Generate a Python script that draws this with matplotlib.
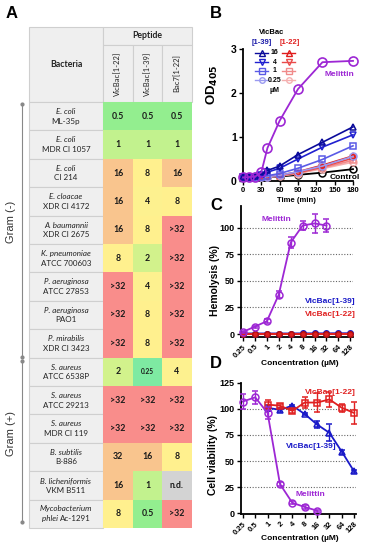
import matplotlib
matplotlib.use('Agg')
import matplotlib.pyplot as plt
from matplotlib.patches import Rectangle

plt.rcParams['font.family'] = ['Liberation Sans', 'DejaVu Sans']

# ---------------- Panel A data ----------------
species = ["E. coli", "E. coli", "E. coli", "E. cloacae", "A. baumannii", "K. pneumoniae",
           "P. aeruginosa", "P. aeruginosa", "P. mirabilis", "S. aureus", "S. aureus",
           "S. aureus", "B. subtilis", "B. licheniformis", "Mycobacterium"]
strains = ["ML-35p", "MDR CI 1057", "CI 214", "XDR CI 4172", "XDR CI 2675", "ATCC 700603",
           "ATCC 27853", "PAO1", "XDR CI 3423", "ATCC 6538P", "ATCC 29213", "MDR CI 119",
           "B-886", "VKM B511", "Ac-1291"]
peptides = ["VicBac[1-22]", "VicBac[1-39]", "Bac7[1-22]"]
mic_v22 = ["0.5", "1", "16", "16", "16", "8", ">32", ">32", ">32", "2", ">32", ">32", "32", "16", "8"]
mic_v39 = ["0.5", "1", "8", "4", "8", "2", "4", "8", "8", "0.25", ">32", ">32", "16", "1", "0.5"]
mic_bac7 = ["0.5", "1", "16", "8", ">32", ">32", ">32", ">32", ">32", "4", ">32", ">32", "8", "n.d.", ">32"]
mic_colors = {"0.25": "#7eeaa2", "0.5": "#93ee8f", "1": "#c2f28e", "2": "#d2f28c",
              "4": "#fdf18f", "8": "#fff08e", "16": "#f9c58e", "32": "#f9c58e",
              ">32": "#f98d8b", "n.d.": "#d3d3d3"}

# ---------------- Panel B data ----------------
time_min = [0, 10, 20, 30, 40, 60, 90, 130, 180]
od_melittin = [0.08, 0.09, 0.10, 0.20, 0.75, 1.37, 2.09, 2.70, 2.73]
od_v39 = {"16": [0.08, 0.09, 0.11, 0.15, 0.24, 0.34, 0.60, 0.88, 1.23],
          "4": [0.08, 0.08, 0.10, 0.13, 0.20, 0.29, 0.50, 0.77, 1.05],
          "1": [0.08, 0.08, 0.09, 0.10, 0.12, 0.17, 0.29, 0.49, 0.80],
          "0.25": [0.08, 0.08, 0.08, 0.09, 0.10, 0.13, 0.21, 0.34, 0.56]}
od_v22 = {"16": [0.08, 0.08, 0.08, 0.09, 0.10, 0.13, 0.21, 0.36, 0.57],
          "4": [0.08, 0.08, 0.08, 0.09, 0.10, 0.12, 0.19, 0.32, 0.52],
          "1": [0.08, 0.08, 0.08, 0.09, 0.09, 0.12, 0.18, 0.30, 0.47],
          "0.25": [0.08, 0.08, 0.08, 0.08, 0.09, 0.11, 0.17, 0.28, 0.43]}
od_control = [0.08, 0.08, 0.08, 0.08, 0.09, 0.10, 0.14, 0.19, 0.27]
doses = ["16", "4", "1", "0.25"]

# ---------------- Panel C / D data ----------------
conc_labels = ["0.25", "0.5", "1", "2", "4", "8", "16", "32", "64", "128"]
hem_mel = [2, 7, 12, 37, 86, 102, 104, 102]
hem_mel_err = [1, 1, 2, 3, 5, 4, 9, 6]
hem_v39 = [0.4, 0.4, 0.4, 0.4, 0.4, 0.5, 0.5, 0.5, 0.6, 0.6]
hem_v22 = [0.3, 0.3, 0.3, 0.3, 0.3, 0.3, 0.3, 0.3, 0.3, 0.3]

via_mel = [107, 111, 96, 28, 10, 6, 2.5]
via_mel_err = [7, 6, 6, 2, 1.5, 1.5, 1]
via_v22 = [104, 103, 98, 106, 106, 109, 101, 96]
via_v22_err = [4, 2, 2, 5, 9, 7, 4, 11]
via_v39 = [101, 99, 103, 95, 85, 77, 59, 40]
via_v39_err = [3, 2, 1, 1, 3, 8, 2, 1]

PURPLE = "#9d27d4"
BLUE = "#1a1ac8"
RED = "#e02020"
blue_shades = {"16": "#0b0b9b", "4": "#2020d0", "1": "#5a5ae6", "0.25": "#9a9af0"}
red_shades = {"16": "#e01a1a", "4": "#ea4a4a", "1": "#f08a8a", "0.25": "#f5b0b0"}
markers = {"16": "^", "4": "v", "1": "s", "0.25": "o"}

W, H = 368, 550
fig = plt.figure(figsize=(W / 100, H / 100), dpi=100)
ov = fig.add_axes([0, 0, 1, 1])
ov.set_xlim(0, W)
ov.set_ylim(H, 0)
ov.axis('off')


def rect(l, t, r, b):
    return [l / W, 1 - b / H, (r - l) / W, (b - t) / H]


# ---------------- Panel A: table ----------------
TF = ['Lato', 'DejaVu Sans']
col_edges = [29, 103, 133, 162, 192]
top, split, head_bot = 27, 45, 102
row_h = 28.4
grid = "#cfcfcf"
hdr_bg = "#efefef"

ov.add_patch(Rectangle((col_edges[0], top), col_edges[1] - col_edges[0], head_bot - top,
                       fc=hdr_bg, ec=grid, lw=0.8))
ov.add_patch(Rectangle((col_edges[1], top), col_edges[4] - col_edges[1], split - top,
                       fc=hdr_bg, ec=grid, lw=0.8))
for j in range(3):
    ov.add_patch(Rectangle((col_edges[j + 1], split), col_edges[j + 2] - col_edges[j + 1],
                           head_bot - split, fc=hdr_bg, ec=grid, lw=0.8))
    ov.text((col_edges[j + 1] + col_edges[j + 2]) / 2, (split + head_bot) / 2, peptides[j],
            rotation=90, ha='center', va='center', fontsize=5.5, family=TF, color='#222222')
ov.text((col_edges[0] + col_edges[1]) / 2, (top + head_bot) / 2, "Bacteria", ha='center',
        va='center', fontsize=6.3, fontweight='bold', family=TF, color='#222222')
ov.text((col_edges[1] + col_edges[4]) / 2, (top + split) / 2, "Peptide", ha='center',
        va='center', fontsize=6.3, fontweight='bold', family=TF, color='#222222')

cols = [mic_v22, mic_v39, mic_bac7]
for i in range(len(species)):
    y0 = head_bot + i * row_h
    yc = y0 + row_h / 2
    ov.add_patch(Rectangle((col_edges[0], y0), col_edges[1] - col_edges[0], row_h,
                           fc=hdr_bg, ec=grid, lw=0.8))
    cx = (col_edges[0] + col_edges[1]) / 2
    ov.text(cx, yc - 4.8, species[i], ha='center', va='center', fontsize=5.8,
            style='italic', family=TF, color='#222222')
    if species[i] == "Mycobacterium":
        ov.text(cx - 6, yc + 5, "phlei ", ha='right', va='center', fontsize=5.8,
                style='italic', family=TF, color='#222222')
        ov.text(cx - 6, yc + 5, "Ac-1291", ha='left', va='center', fontsize=5.8,
                family=TF, color='#222222')
    else:
        ov.text(cx, yc + 5, strains[i], ha='center', va='center', fontsize=5.8,
                family=TF, color='#222222')
    for j in range(3):
        v = cols[j][i]
        ov.add_patch(Rectangle((col_edges[j + 1], y0), col_edges[j + 2] - col_edges[j + 1],
                               row_h, fc=mic_colors[v], ec='none'))
        ov.text((col_edges[j + 1] + col_edges[j + 2]) / 2, yc, v, ha='center', va='center',
                fontsize=4.8 if v == "0.25" else 6.3, fontweight='bold', family=TF,
                color='#1a1a1a')

# Gram brackets
n_neg = 9
for (a, b), lab in [((head_bot + 2, head_bot + n_neg * row_h - 1), "Gram (-)"),
                    ((head_bot + n_neg * row_h + 3, head_bot + 15 * row_h - 6), "Gram (+)")]:
    ov.plot([22, 22], [a, b], color='#888888', lw=0.8)
    ov.plot([22, 22], [a, b], ls='none', marker='o', ms=2, color='#888888')
    ov.text(11, (a + b) / 2 - 8, lab, rotation=90, ha='center', va='center', fontsize=8,
            color='#333333')

# panel letters
for lab, x, y in [("A", 12, 13), ("B", 216, 13), ("C", 216, 205), ("D", 216, 364)]:
    ov.text(x, y, lab, fontsize=12, fontweight='bold', ha='center', va='center')


def style(ax):
    for s in ['top', 'right']:
        ax.spines[s].set_visible(False)
    for s in ['left', 'bottom']:
        ax.spines[s].set_linewidth(1.3)
    ax.tick_params(direction='out', length=3, width=1, pad=1.5)
    ax.set_facecolor('none')


# ---------------- Panel B ----------------
axB = fig.add_axes(rect(243, 49, 353, 181))
style(axB)
axB.plot(time_min, od_control, color='black', lw=1.3, marker='o', mfc='none', mec='black',
         ms=5, mew=1.1, clip_on=False, zorder=3)
for d in reversed(doses):
    axB.plot(time_min, od_v22[d], color=red_shades[d], lw=1.2, marker=markers[d], mfc='none',
             mec=red_shades[d], ms=5, mew=1.1, clip_on=False, zorder=3)
for d in reversed(doses):
    axB.plot(time_min, od_v39[d], color=blue_shades[d], lw=1.2, marker=markers[d], mfc='none',
             mec=blue_shades[d], ms=5, mew=1.1, clip_on=False, zorder=4)
axB.plot(time_min, od_melittin, color=PURPLE, lw=1.3, marker='o', mfc='none', mec=PURPLE,
         ms=6.5, mew=1.2, clip_on=False, zorder=5)
axB.set_xlim(0, 180)
axB.set_ylim(0, 3)
axB.set_xticks([0, 30, 60, 90, 120, 150, 180])
axB.set_yticks([0, 1, 2, 3])
for lbl in axB.get_xticklabels():
    lbl.set_fontsize(5.5)
    lbl.set_fontweight('bold')
for lbl in axB.get_yticklabels():
    lbl.set_fontsize(7.5)
    lbl.set_fontweight('bold')
axB.set_xlabel("Time (min)", fontsize=5.5, fontweight='bold')
axB.xaxis.set_label_coords(0.49, -0.12)
axB.set_ylabel("OD$_{\\mathbf{405}}$", fontsize=9.5, fontweight='bold')
axB.yaxis.set_label_coords(-0.21, 0.73)
axB.text(157, 2.43, "Melittin", color=PURPLE, fontsize=6, fontweight='bold', ha='center',
         va='center')
axB.text(167, 0.09, "Control", color='black', fontsize=6, fontweight='bold', ha='center',
         va='center', zorder=6)

# Panel B legend (figure pixel layout)
ov.text(272, 32, "VicBac", fontsize=5.5, fontweight='bold', ha='center', va='center')
ov.text(262, 42, "[1-39]", fontsize=5.5, fontweight='bold', color='#1a1aa8', ha='center',
        va='center')
ov.text(290, 42, "[1-22]", fontsize=5.5, fontweight='bold', color=RED, ha='center',
        va='center')
for k, d in enumerate(doses):
    yy = 53 + k * 9
    ov.plot([255, 268], [yy, yy], color=blue_shades[d], lw=1)
    ov.plot([261.5], [yy], marker=markers[d], mfc='none', mec=blue_shades[d], ms=4, mew=1)
    ov.plot([282, 295], [yy, yy], color=red_shades[d], lw=1)
    ov.plot([288.5], [yy], marker=markers[d], mfc='none', mec=red_shades[d], ms=4, mew=1)
    ov.text(274.5, yy, d, fontsize=5, fontweight='bold', ha='center', va='center')
ov.text(274.5, 90, "µM", fontsize=5, fontweight='bold', ha='center', va='center')

xpos = list(range(len(conc_labels)))


def conc_axis(ax, yticks):
    ax.set_xticks(xpos)
    ax.set_xticklabels(conc_labels, rotation=45, ha='right', rotation_mode='anchor',
                       fontsize=5.5, fontweight='bold')
    ax.set_yticks(yticks)
    for lbl in ax.get_yticklabels():
        lbl.set_fontsize(6.5)
        lbl.set_fontweight('bold')
    for g in [25, 50, 75, 100]:
        ax.axhline(g, color='#666666', ls=(0, (1, 1.5)), lw=0.8, zorder=1)


# ---------------- Panel C ----------------
axC = fig.add_axes(rect(240.6, 206.4, 352.7, 337.2))
style(axC)
conc_axis(axC, [0, 25, 50, 75, 100])
axC.plot(xpos, hem_v39, color=BLUE, lw=1.5, marker='o', mfc=BLUE, mec=BLUE, ms=4,
         clip_on=False, zorder=3)
axC.plot(xpos, hem_v22, color=RED, lw=1.5, marker='o', mfc=RED, mec='#b01010', ms=4,
         clip_on=False, zorder=4)
axC.errorbar(xpos[:len(hem_mel)], hem_mel, yerr=hem_mel_err, color=PURPLE, lw=1.3,
             marker='o', mfc='none', mec=PURPLE, ms=5, mew=1.1, capsize=2, elinewidth=1,
             zorder=5, clip_on=False)
axC.set_xlim(-0.2, 9.2)
axC.set_ylim(-3, 120)
axC.set_xlabel("Concentration (µM)", fontsize=6, fontweight='bold')
axC.xaxis.set_label_coords(0.53, -0.174)
axC.set_ylabel("Hemolysis (%)", fontsize=7.5, fontweight='bold')
axC.yaxis.set_label_coords(-0.18, 0.437)
axC.text(2.77, 108, "Melittin", color=PURPLE, fontsize=6, fontweight='bold', ha='center',
         va='center')
axC.text(7.3, 31, "VicBac[1-39]", color=BLUE, fontsize=6, fontweight='bold', ha='center',
         va='center')
axC.text(7.3, 18, "VicBac[1-22]", color=RED, fontsize=6, fontweight='bold', ha='center',
         va='center')

# ---------------- Panel D ----------------
axD = fig.add_axes(rect(241, 382.7, 356, 514.3))
style(axD)
conc_axis(axD, [0, 25, 50, 75, 100, 125])
axD.errorbar(xpos[2:], via_v39, yerr=via_v39_err, color=BLUE, lw=1.3, marker='^',
             mfc='none', mec=BLUE, ms=5, mew=1.1, capsize=2, elinewidth=1, zorder=3,
             clip_on=False)
axD.errorbar(xpos[2:], via_v22, yerr=via_v22_err, color=RED, lw=1.3, marker='s',
             mfc='none', mec=RED, ms=4.5, mew=1.1, capsize=2, elinewidth=1, zorder=4,
             clip_on=False)
axD.errorbar(xpos[:len(via_mel)], via_mel, yerr=via_mel_err, color=PURPLE, lw=1.3,
             marker='o', mfc='none', mec=PURPLE, ms=5, mew=1.1, capsize=2, elinewidth=1,
             zorder=5, clip_on=False)
axD.set_xlim(-0.15, 9.15)
axD.set_ylim(-1, 125)
axD.set_xlabel("Concentration (µM)", fontsize=6, fontweight='bold')
axD.xaxis.set_label_coords(0.51, -0.157)
axD.set_ylabel("Cell viability (%)", fontsize=7.5, fontweight='bold')
axD.yaxis.set_label_coords(-0.2, 0.45)
axD.text(7.06, 116, "VicBac[1-22]", color=RED, fontsize=6, fontweight='bold', ha='center',
         va='center')
axD.text(5.5, 63.5, "VicBac[1-39]", color=BLUE, fontsize=6, fontweight='bold', ha='center',
         va='center')
axD.text(5.5, 17.5, "Melittin", color=PURPLE, fontsize=6, fontweight='bold', ha='center',
         va='center')

fig.savefig("out.png", dpi=100)
